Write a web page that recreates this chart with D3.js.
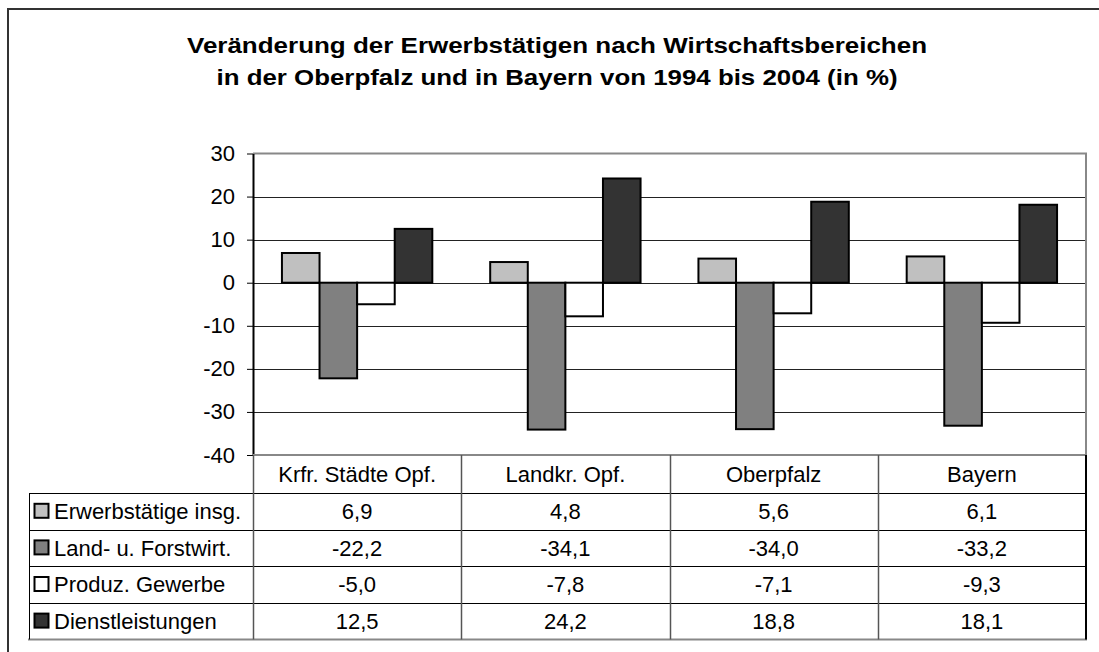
<!DOCTYPE html>
<html>
<head>
	<meta charset="utf-8">
	<style>
		body { margin: 0; background: white; }
		text { font-family: "Liberation Sans", Arial, sans-serif; fill: #000; }
		.yAxis path { stroke: #000; stroke-width: 2px; }
		.yAxis line { stroke: #000; }
		.yAxis text { font-size: 22px; }
	</style>
	<title>Erwerbstätige Oberpfalz</title>
</head>
<body>
	<script src="https://cdnjs.cloudflare.com/ajax/libs/d3/7.8.5/d3.min.js"></script>
	<script>
	// Regions (x categories)
	var categories = ["Krfr. Städte Opf.", "Landkr. Opf.", "Oberpfalz", "Bayern"];
	// Series names, as in the table legend
	var seriesNames = ["Erwerbstätige insg.", "Land- u. Forstwirt.", "Produz. Gewerbe", "Dienstleistungen"];
	// Values per series, one per category
	var erwerbstaetige = [6.9, 4.8, 5.6, 6.1];
	var landForst = [-22.2, -34.1, -34.0, -33.2];
	var produz = [-5.0, -7.8, -7.1, -9.3];
	var dienst = [12.5, 24.2, 18.8, 18.1];
	var yTicks = [-40, -30, -20, -10, 0, 10, 20, 30];
	var colors = ["#c0c0c0", "#808080", "#ffffff", "#333333"];

	var seriesData = [erwerbstaetige, landForst, produz, dienst];

	var svg = d3.select("body")
		.append("svg")
		.attr("width", 1099)
		.attr("height", 652);

	// outer frame (runs past the picture on the right and bottom)
	svg.append("rect")
		.attr("x", 8)
		.attr("y", 9)
		.attr("width", 1120)
		.attr("height", 700)
		.style("fill", "white")
		.style("stroke", "#333")
		.style("stroke-width", 2);

	// title
	svg.append("text")
		.attr("x", 557).attr("y", 53)
		.attr("text-anchor", "middle")
		.attr("textLength", 740)
		.attr("lengthAdjust", "spacingAndGlyphs")
		.style("font-size", "22px")
		.style("font-weight", "bold")
		.text("Veränderung der Erwerbstätigen nach Wirtschaftsbereichen");
	svg.append("text")
		.attr("x", 557).attr("y", 85)
		.attr("text-anchor", "middle")
		.attr("textLength", 681)
		.attr("lengthAdjust", "spacingAndGlyphs")
		.style("font-size", "22px")
		.style("font-weight", "bold")
		.text("in der Oberpfalz und in Bayern von 1994 bis 2004 (in %)");

	var plotLeft = 253, plotRight = 1086, plotTop = 153.5, plotBottom = 455;

	var x = d3.scaleBand()
		.domain(categories)
		.range([plotLeft, plotRight]);

	var xs = d3.scaleBand()
		.domain(d3.range(seriesNames.length))
		.range([0, x.bandwidth()])
		.paddingOuter(0.77);

	var y = d3.scaleLinear()
		.domain([-40, 30])
		.range([plotBottom, plotTop]);

	// gridlines
	svg.selectAll("line.grid")
		.data(yTicks.filter(function(d){ return d > -40 && d < 30; }))
		.enter()
		.append("line")
		.attr("class", "grid")
		.attr("x1", plotLeft)
		.attr("x2", plotRight)
		.attr("y1", function(d){ return Math.round(y(d)) + 0.5; })
		.attr("y2", function(d){ return Math.round(y(d)) + 0.5; })
		.style("stroke", "#222")
		.style("stroke-width", 1);

	// plot border top / right
	svg.append("path")
		.attr("d", "M" + plotLeft + "," + plotTop + "H" + plotRight + "V" + plotBottom)
		.style("fill", "none")
		.style("stroke", "#888")
		.style("stroke-width", 2);

	// bars
	seriesData.forEach(function(vals, s) {
		svg.selectAll("rect.s" + s)
			.data(vals)
			.enter()
			.append("rect")
			.attr("class", "s" + s)
			.attr("x", function(d, i){ return x(categories[i]) + xs(s); })
			.attr("y", function(d){ return y(Math.max(0, d)); })
			.attr("width", xs.bandwidth())
			.attr("height", function(d){ return Math.abs(y(d) - y(0)); })
			.style("fill", colors[s])
			.style("stroke", "#000")
			.style("stroke-width", 2);
	});

	// y axis
	svg.append("g")
		.attr("class", "yAxis")
		.attr("transform", "translate(" + plotLeft + ",0)")
		.call(d3.axisLeft(y)
			.tickValues(yTicks)
			.tickFormat(function(d){ return String(d); })
			.tickSize(6).tickSizeOuter(0).tickPadding(12));

	// data table
	var tableLeft = 29;
	var rowH = 36.6;
	var headTop = plotBottom, headBottom = 493;
	var rowY = function(r){ return headBottom + r * rowH; };
	var tableBottom = rowY(seriesNames.length);

	// horizontal rules
	for (var r = 0; r < seriesNames.length; r++) {
		svg.append("line")
			.attr("x1", tableLeft).attr("x2", plotRight)
			.attr("y1", Math.round(rowY(r)) + 0.5).attr("y2", Math.round(rowY(r)) + 0.5)
			.style("stroke", "#000");
	}
	svg.append("line")
		.attr("x1", tableLeft - 1).attr("x2", plotRight + 1)
		.attr("y1", tableBottom).attr("y2", tableBottom)
		.style("stroke", "#888").style("stroke-width", 2);
	svg.append("line")
		.attr("x1", plotLeft).attr("x2", plotRight)
		.attr("y1", plotBottom).attr("y2", plotBottom)
		.style("stroke", "#888").style("stroke-width", 2);

	// vertical rules
	svg.append("line")
		.attr("x1", tableLeft + 0.5).attr("x2", tableLeft + 0.5)
		.attr("y1", headBottom).attr("y2", tableBottom)
		.style("stroke", "#000");
	svg.selectAll("line.col")
		.data(categories)
		.enter()
		.append("line")
		.attr("class", "col")
		.attr("x1", function(d){ return Math.round(x(d)) + 0.5; })
		.attr("x2", function(d){ return Math.round(x(d)) + 0.5; })
		.attr("y1", headTop)
		.attr("y2", tableBottom)
		.style("stroke", "#555")
		.style("stroke-width", 1.5);
	svg.append("line")
		.attr("x1", plotRight).attr("x2", plotRight)
		.attr("y1", headTop).attr("y2", tableBottom)
		.style("stroke", "#000").style("stroke-width", 2);

	// header labels
	svg.selectAll("text.cat")
		.data(categories)
		.enter()
		.append("text")
		.attr("class", "cat")
		.attr("x", function(d){ return x(d) + x.bandwidth() / 2; })
		.attr("y", (headTop + headBottom) / 2)
		.attr("dy", "0.35em")
		.attr("text-anchor", "middle")
		.style("font-size", "22px")
		.text(function(d){ return d; });

	// legend cells and values
	seriesNames.forEach(function(name, s) {
		var cy = rowY(s) + rowH / 2;
		svg.append("rect")
			.attr("x", 34.5).attr("y", cy - 7.5)
			.attr("width", 14).attr("height", 14)
			.style("fill", colors[s])
			.style("stroke", "#000")
			.style("stroke-width", 2);
		svg.append("text")
			.attr("x", 54)
			.attr("y", cy)
			.attr("dy", "0.35em")
			.style("font-size", "22px")
			.text(name);
		svg.selectAll("text.v" + s)
			.data(seriesData[s])
			.enter()
			.append("text")
			.attr("class", "v" + s)
			.attr("x", function(d, i){ return x(categories[i]) + x.bandwidth() / 2; })
			.attr("y", cy)
			.attr("dy", "0.35em")
			.attr("text-anchor", "middle")
			.style("font-size", "22px")
			.text(function(d){ return d3.format(".1f")(d).replace(".", ",").replace("−", "-"); });
	});
	</script>
</body>
</html>
